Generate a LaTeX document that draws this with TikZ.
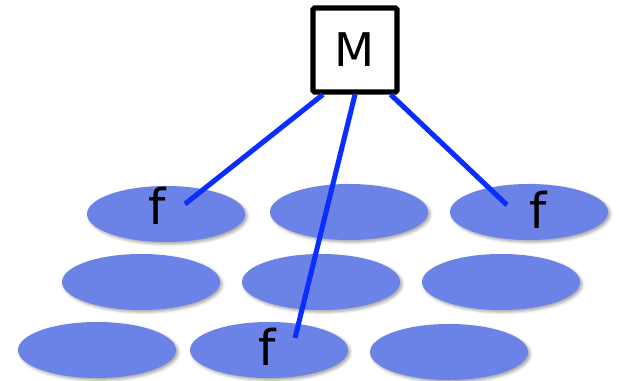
\documentclass[tikz,border=0pt]{standalone}
\usepackage{fontspec}
\setmainfont{DejaVu Sans}
\usetikzlibrary{shapes.geometric, shadows.blur, calc}
\definecolor{cellblue}{HTML}{6B83E6}
\definecolor{linkblue}{HTML}{0A2EFF}

\begin{document}
\begin{tikzpicture}[x=0.025cm, y=-0.025cm,
  cell/.style={ellipse, fill=cellblue, inner sep=0pt,
    minimum width=3.95cm, minimum height=1.4cm,
    blur shadow={shadow xshift=1.5pt, shadow yshift=-1.5pt,
      shadow blur radius=2pt, shadow opacity=35}},
  link/.style={linkblue, line width=3.6pt},
  flabel/.style={anchor=base, inner sep=0pt, font=\fontsize{35}{35}\selectfont}]

% Bounding box
\useasboundingbox (0,0) rectangle (619,381);

% Grid of cells
\foreach \name/\x/\y in {c11/166/214, c12/349/212, c13/529/212,
                         c21/141/282, c22/321/282, c23/501/282,
                         c31/97/350,  c32/269/350, c33/449/352}
  \node[cell] (\name) at (\x,\y) {};

% Box M
\node[draw, line width=3.6pt, fill=white, rounded corners=1pt,
      minimum size=2.1cm, inner sep=0pt,
      font=\fontsize{33}{33}\selectfont] (M) at (355,50) {\raisebox{-3pt}{M}};

% Labels f
\node[flabel] (f1) at (157,224) {f};
\node[flabel] (f2) at (538,228) {f};
\node[flabel] (f3) at (267,365) {f};

% Line ends
\coordinate (s1) at ($(M.south west)!0.14!(M.south east)$);
\coordinate (s2) at ($(M.south west)!0.50!(M.south east)$);
\coordinate (s3) at ($(M.south west)!0.90!(M.south east)$);
\coordinate (t1) at ($(f1.base)+(28,-20)$);
\coordinate (t2) at ($(f2.base)+(-31,-23)$);
\coordinate (t3) at ($(f3.base)+(28,-27)$);

% Links
\draw[link] (s1) -- (t1);
\draw[link] (s2) -- (t3);
\draw[link] (s3) -- (t2);

\end{tikzpicture}
\end{document}
